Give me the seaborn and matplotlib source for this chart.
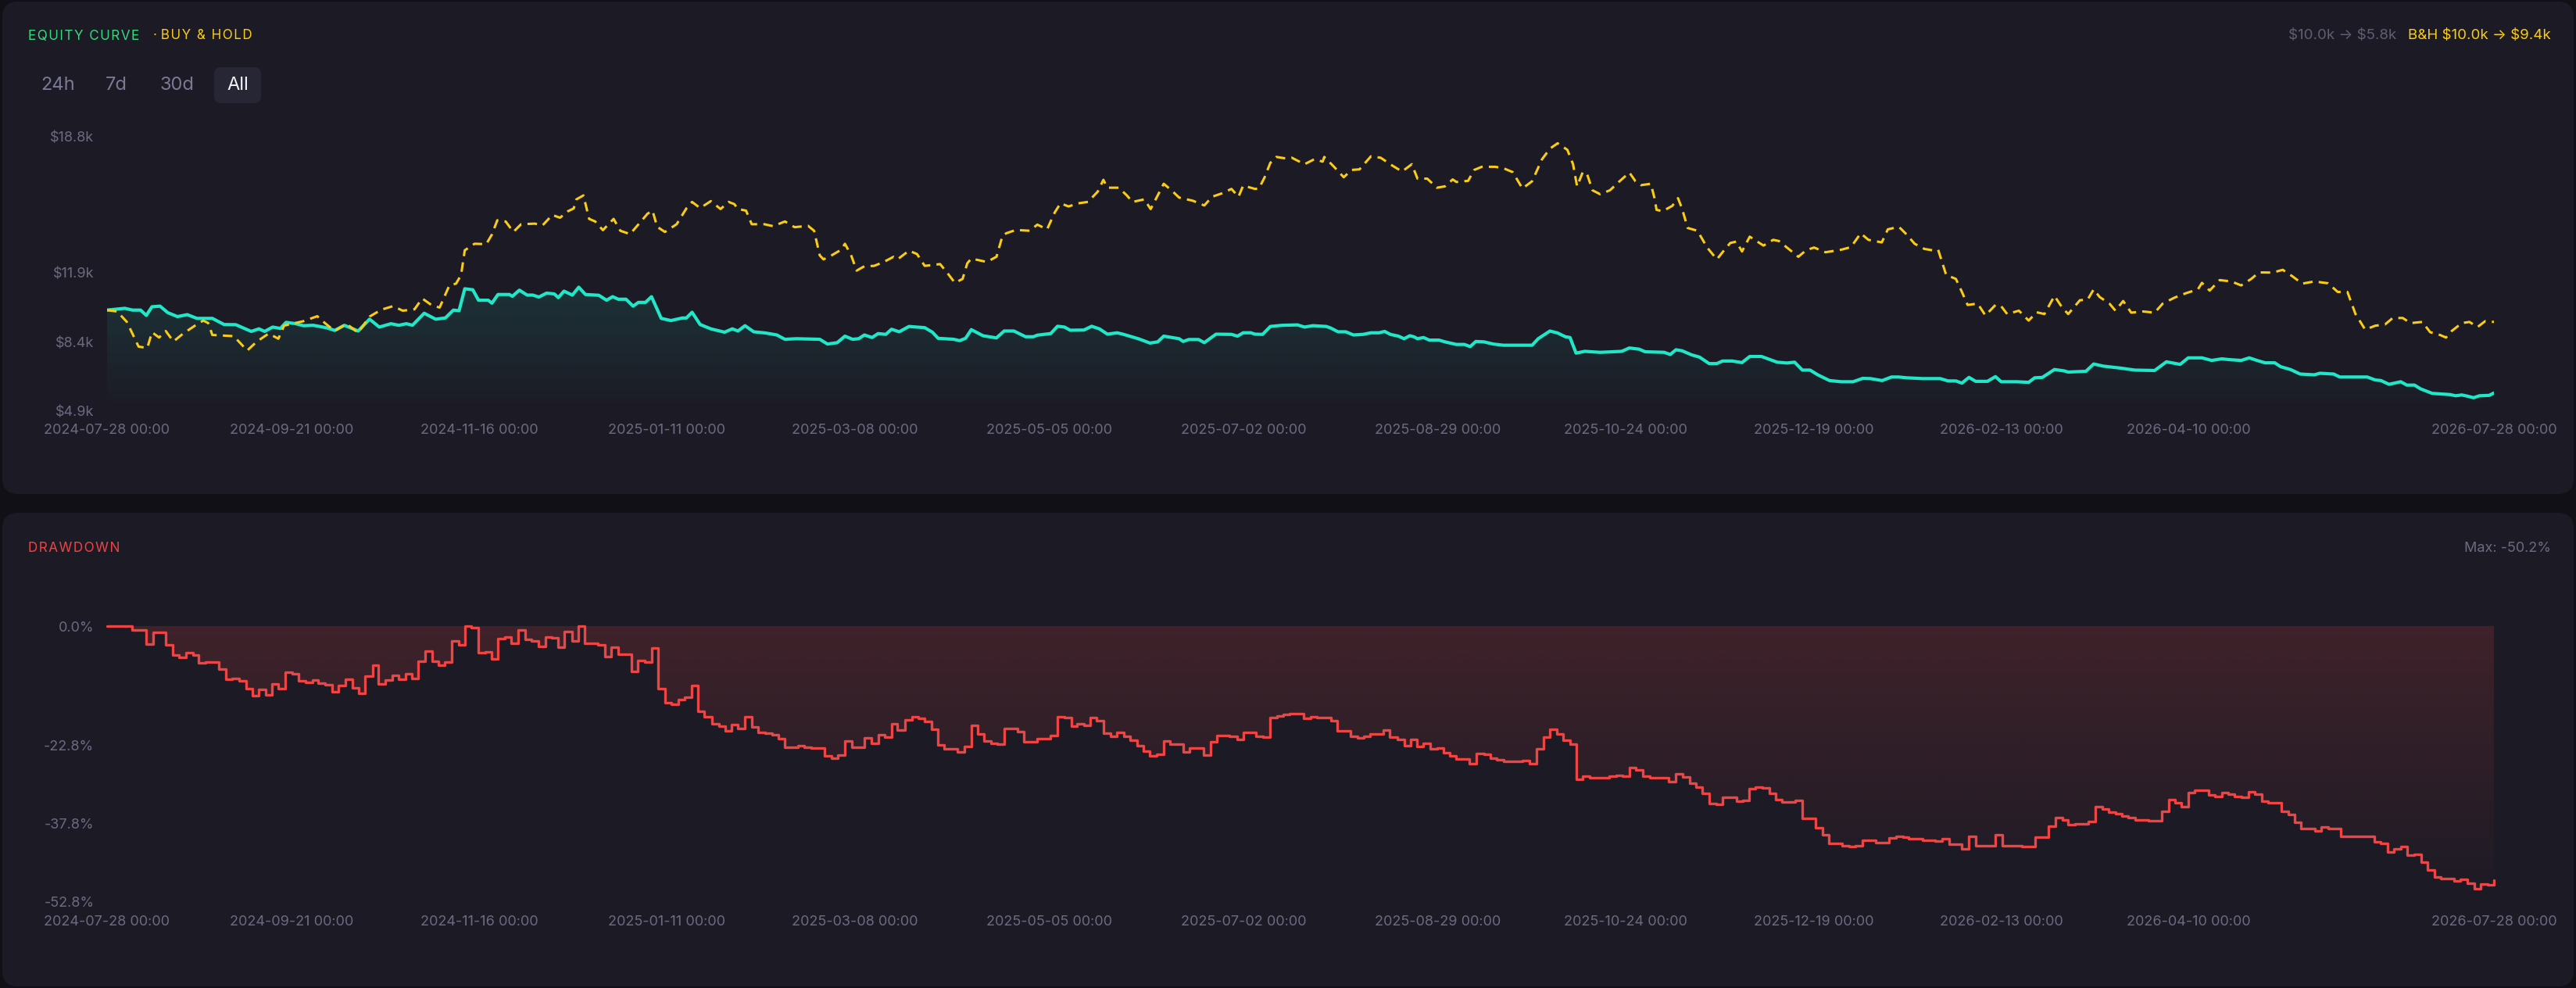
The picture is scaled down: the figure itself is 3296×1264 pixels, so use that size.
import numpy as np
import pandas as pd
import matplotlib
matplotlib.use("Agg")
import matplotlib.pyplot as plt
import matplotlib.dates as mdates
from matplotlib.colors import to_rgb
from matplotlib.patches import FancyBboxPatch
import seaborn as sns

sns.set_style("dark")
plt.rcParams["font.family"] = ["Inter", "DejaVu Sans"]
plt.rcParams["text.parse_math"] = False

start = pd.Timestamp("2024-07-28")

# (days since start, equity in $k)
equity = [
    (0, 10.00), (5.3, 10.09), (7.6, 10.00), (10.0, 10.00), (11.7, 9.73), (13.4, 10.17), (15.8, 10.20),
    (18.1, 9.87), (21.0, 9.67), (23.9, 9.77), (26.8, 9.58), (31.4, 9.58), (34.9, 9.27), (38.4, 9.26),
    (43.0, 8.92), (45.3, 9.05), (47.0, 8.92), (49.4, 9.14), (51.7, 9.07), (53.4, 9.38), (56.3, 9.31),
    (58.6, 9.21), (61.5, 9.23), (65.6, 9.10), (67.9, 8.97), (70.8, 9.23), (74.9, 8.94), (78.3, 9.54),
    (81.2, 9.14), (84.7, 9.31), (87.0, 9.23), (89.3, 9.31), (91.1, 9.23), (94.6, 9.84), (98.0, 9.54),
    (100.9, 9.60), (103.3, 10.00), (105.0, 9.97), (106.7, 11.08), (109.1, 11.03), (110.8, 10.50),
    (113.7, 10.50), (114.8, 10.35), (116.6, 10.79), (120.0, 10.79), (120.9, 10.70), (123.0, 11.01),
    (125.3, 10.76), (127.0, 10.76), (128.8, 10.66), (131.1, 10.86), (133.4, 10.82), (134.6, 10.63),
    (136.3, 10.96), (138.8, 10.76), (140.7, 11.16), (142.7, 10.79), (146.7, 10.75), (149.0, 10.50),
    (150.8, 10.68), (152.5, 10.55), (154.8, 10.55), (156.9, 10.20), (158.5, 10.39), (160.6, 10.39),
    (162.4, 10.68), (165.3, 9.58), (168.2, 9.47), (171.6, 9.60), (172.8, 9.60), (174.5, 9.89),
    (176.9, 9.27), (180.1, 9.05), (184.2, 8.88), (186.5, 9.05), (188.2, 8.94), (190.3, 9.21),
    (192.9, 8.90), (196.4, 8.84), (199.8, 8.74), (202.2, 8.52), (205.6, 8.55), (212.6, 8.52),
    (214.9, 8.28), (217.8, 8.35), (220.1, 8.68), (222.4, 8.52), (224.2, 8.55), (225.9, 8.74),
    (228.2, 8.61), (230.0, 8.81), (232.3, 8.77), (234.0, 9.03), (236.3, 8.90), (239.2, 9.17),
    (243.9, 9.11), (246.2, 8.88), (247.9, 8.57), (252.6, 8.52), (254.3, 8.45), (256.1, 8.57),
    (257.8, 9.01), (261.3, 8.70), (265.3, 8.59), (267.6, 8.94), (270.5, 8.94), (274.0, 8.65),
    (276.3, 8.65), (277.5, 8.73), (281.5, 8.81), (283.5, 9.18), (285.6, 9.14), (287.3, 8.98),
    (291.4, 8.99), (293.7, 9.18), (296.0, 9.05), (298.4, 8.78), (301.3, 8.85), (303.0, 8.78),
    (307.6, 8.55), (311.1, 8.33), (313.4, 8.39), (315.2, 8.68), (319.8, 8.55), (321.0, 8.41),
    (322.7, 8.51), (325.6, 8.51), (327.3, 8.35), (330.8, 8.78), (335.4, 8.77), (337.2, 8.68),
    (338.9, 8.85), (341.2, 8.85), (342.4, 8.78), (344.7, 8.77), (347.0, 9.17), (350.5, 9.23),
    (355.1, 9.25), (357.2, 9.14), (359.7, 9.21), (363.7, 9.17), (364.9, 9.10), (367.2, 8.90),
    (369.5, 8.90), (371.8, 8.74), (374.7, 8.77), (377.0, 8.85), (379.4, 8.85), (381.1, 8.92),
    (382.8, 8.77), (385.2, 8.68), (386.9, 8.55), (388.6, 8.70), (389.8, 8.65), (390.9, 8.55),
    (392.7, 8.61), (394.4, 8.48), (397.3, 8.48), (399.1, 8.39), (402.5, 8.26), (404.9, 8.26),
    (406.6, 8.15), (408.3, 8.41), (410.7, 8.39), (413.5, 8.28), (416.5, 8.22), (423.4, 8.22),
    (425.1, 8.22), (426.9, 8.55), (430.4, 8.94), (432.7, 8.84), (435.0, 8.65), (436.4, 8.61),
    (438.2, 7.82), (440.8, 7.91), (445.4, 7.86), (451.8, 7.91), (454.1, 8.08), (457.0, 8.02),
    (458.8, 7.89), (464.5, 7.86), (466.3, 7.75), (468.0, 7.99), (469.8, 7.94), (472.7, 7.73),
    (475.0, 7.62), (477.9, 7.29), (480.2, 7.29), (481.9, 7.42), (484.8, 7.42), (487.7, 7.34),
    (490.0, 7.65), (493.5, 7.65), (498.2, 7.36), (501.1, 7.32), (503.4, 7.36), (505.7, 6.96),
    (508.0, 6.96), (510.3, 6.72), (513.8, 6.43), (517.3, 6.37), (520.8, 6.37), (523.7, 6.54),
    (526.0, 6.53), (529.5, 6.43), (532.3, 6.61), (534.4, 6.61), (536.8, 6.57), (541.5, 6.53),
    (546.8, 6.53), (549.2, 6.41), (551.5, 6.41), (553.3, 6.30), (555.4, 6.59), (557.4, 6.39),
    (560.9, 6.39), (563.3, 6.63), (565.0, 6.37), (569.7, 6.37), (573.2, 6.34), (575.0, 6.57),
    (577.3, 6.59), (580.9, 6.99), (583.8, 6.92), (585.0, 6.86), (590.3, 6.90), (592.6, 7.27),
    (595.5, 7.16), (600.2, 7.07), (604.9, 6.96), (610.8, 6.94), (614.3, 7.38), (618.4, 7.25),
    (620.8, 7.58), (624.9, 7.58), (627.8, 7.45), (630.8, 7.53), (633.1, 7.49), (636.6, 7.45),
    (639.0, 7.58), (641.3, 7.45), (643.7, 7.33), (646.6, 7.33), (648.4, 7.13), (651.3, 6.99),
    (654.2, 6.76), (658.4, 6.72), (660.1, 6.80), (664.2, 6.76), (666.0, 6.61), (674.2, 6.61),
    (676.6, 6.46), (678.3, 6.43), (680.7, 6.24), (684.2, 6.37), (686.0, 6.20), (688.3, 6.20),
    (690.1, 6.01), (693.6, 5.78), (698.9, 5.72), (700.6, 5.66), (702.4, 5.70), (704.1, 5.64),
    (705.9, 5.56), (707.7, 5.66), (710.6, 5.68), (712.0, 5.80),
]

# (days since start, buy & hold in $k)
buy_hold = [
    (0, 10.00), (3.0, 9.93), (5.9, 9.40), (9.4, 8.15), (12.0, 8.08), (13.4, 8.88), (15.5, 8.61),
    (17.5, 8.94), (19.8, 8.41), (22.7, 8.81), (26.2, 9.21), (28.7, 9.47), (30.2, 9.34), (31.4, 8.74),
    (37.8, 8.68), (41.8, 7.95), (44.7, 8.41), (48.2, 8.81), (51.1, 8.55), (52.8, 9.21), (55.2, 9.31),
    (58.6, 9.44), (62.7, 9.69), (65.0, 9.34), (67.9, 8.94), (71.4, 9.31), (74.9, 8.85), (78.3, 9.67),
    (81.8, 10.02), (85.3, 10.20), (88.2, 9.97), (91.7, 10.04), (94.0, 10.59), (96.9, 10.24),
    (99.2, 10.13), (102.1, 11.25), (104.1, 11.34), (105.6, 11.78), (106.7, 13.03), (109.6, 13.36),
    (113.1, 13.34), (114.8, 13.83), (116.4, 14.55), (118.9, 14.49), (121.2, 13.96), (123.5, 14.35),
    (127.6, 14.38), (129.9, 14.29), (132.8, 14.82), (135.1, 14.68), (137.5, 15.01), (139.2, 15.15),
    (140.0, 15.61), (142.1, 15.81), (143.8, 14.62), (145.6, 14.49), (147.9, 14.05), (149.6, 14.35),
    (151.1, 14.62), (153.1, 14.02), (156.0, 13.85), (158.9, 14.42), (161.2, 14.88), (162.7, 15.04),
    (164.1, 14.22), (166.4, 13.96), (169.9, 14.35), (172.8, 15.15), (174.5, 15.48), (176.9, 15.17),
    (180.1, 15.52), (183.0, 15.12), (185.4, 15.48), (187.1, 15.37), (188.2, 15.12), (190.6, 15.04),
    (192.3, 14.35), (196.1, 14.35), (198.7, 14.25), (202.2, 14.49), (205.1, 14.20), (209.1, 14.27),
    (210.9, 14.02), (212.6, 12.77), (213.7, 12.57), (216.1, 12.77), (219.0, 13.06), (220.1, 13.36),
    (221.9, 12.80), (223.6, 12.00), (225.9, 12.22), (228.8, 12.24), (231.7, 12.44), (234.6, 12.70),
    (235.8, 12.57), (239.2, 13.01), (241.6, 12.84), (243.9, 12.24), (248.5, 12.33), (250.8, 11.85),
    (252.9, 11.38), (255.2, 11.58), (256.6, 12.37), (257.8, 12.61), (262.4, 12.44), (265.3, 12.70),
    (267.1, 13.76), (268.2, 13.89), (271.1, 14.06), (275.2, 14.02), (277.5, 14.33), (280.4, 14.09),
    (282.7, 14.95), (284.4, 15.41), (286.8, 15.25), (289.7, 15.41), (292.6, 15.48), (295.5, 16.00),
    (297.2, 16.60), (298.4, 16.20), (301.8, 16.20), (304.2, 15.81), (305.9, 15.48), (309.4, 15.61),
    (311.3, 15.12), (313.4, 15.81), (315.2, 16.40), (317.5, 16.07), (319.8, 15.70), (323.9, 15.54),
    (327.3, 15.30), (329.6, 15.74), (332.5, 15.91), (335.4, 16.14), (337.5, 15.74), (338.9, 16.31),
    (342.4, 16.14), (343.6, 16.16), (345.3, 16.73), (347.0, 17.46), (348.8, 17.76), (351.7, 17.68),
    (353.4, 17.72), (357.2, 17.39), (360.2, 17.65), (362.6, 17.52), (363.1, 17.76), (366.0, 17.26),
    (368.9, 16.73), (371.2, 17.10), (373.6, 17.13), (377.0, 17.79), (379.9, 17.72), (383.4, 17.32),
    (386.3, 17.02), (389.2, 17.39), (390.9, 16.66), (393.8, 16.66), (396.7, 16.20), (399.1, 16.27),
    (401.4, 16.62), (402.5, 16.49), (406.0, 16.55), (407.8, 17.10), (410.1, 17.26), (414.1, 17.26),
    (416.5, 17.19), (419.3, 16.99), (422.2, 16.16), (425.1, 16.53), (428.0, 17.63), (430.4, 18.18),
    (432.7, 18.45), (435.6, 18.12), (437.3, 17.39), (438.5, 16.27), (440.2, 16.99), (441.4, 16.93),
    (443.1, 16.07), (445.4, 15.87), (448.3, 16.07), (451.2, 16.53), (454.1, 16.97), (455.9, 16.53),
    (457.6, 16.33), (460.5, 16.40), (461.6, 15.67), (462.2, 15.08), (464.0, 15.01), (466.9, 15.28),
    (468.6, 15.67), (469.8, 15.15), (471.5, 14.16), (474.4, 14.02), (477.3, 13.17), (480.2, 12.57),
    (482.5, 13.06), (484.2, 13.40), (486.0, 13.47), (487.7, 12.97), (490.0, 13.72), (494.1, 13.27),
    (497.0, 13.56), (498.7, 13.50), (501.6, 13.10), (504.5, 12.70), (506.8, 13.03), (509.2, 13.17),
    (512.6, 12.93), (517.3, 13.06), (520.2, 13.19), (523.1, 13.89), (525.4, 13.56), (529.4, 13.43),
    (531.2, 14.09), (534.4, 14.22), (535.1, 14.12), (536.8, 13.83), (539.2, 13.36), (542.1, 13.10),
    (544.5, 13.03), (546.2, 13.06), (548.6, 11.78), (551.5, 11.58), (553.3, 10.92), (555.0, 10.26),
    (558.0, 10.33), (560.3, 9.73), (563.3, 10.26), (565.0, 10.20), (566.8, 9.80), (570.3, 9.97),
    (573.2, 9.47), (575.6, 9.89), (577.9, 9.80), (580.9, 10.72), (583.2, 10.13), (585.0, 9.80),
    (588.5, 10.50), (590.8, 10.53), (592.6, 11.05), (594.4, 10.66), (597.3, 10.33), (599.1, 9.97),
    (601.4, 10.46), (603.8, 9.87), (607.3, 9.93), (610.8, 9.87), (613.2, 10.33), (616.7, 10.63),
    (620.2, 10.86), (623.7, 11.05), (624.9, 11.38), (627.2, 10.99), (630.2, 11.52), (633.7, 11.45),
    (636.6, 11.25), (639.6, 11.58), (641.9, 11.91), (646.0, 11.90), (649.0, 12.04), (651.9, 11.71),
    (654.8, 11.34), (658.4, 11.45), (662.5, 11.36), (665.4, 10.92), (668.3, 10.92), (670.7, 9.80),
    (673.6, 9.01), (676.6, 9.21), (679.5, 9.27), (681.8, 9.60), (684.8, 9.60), (687.1, 9.34),
    (690.6, 9.40), (693.0, 8.88), (695.9, 8.74), (697.7, 8.61), (699.4, 8.94), (702.4, 9.34),
    (704.7, 9.40), (707.1, 9.14), (709.4, 9.44), (712.0, 9.40),
]

# (days since start, drawdown in %), drawn as steps
drawdown = [
    (0, 0.0), (7.4, -0.73), (11.7, -3.37), (13.7, -1.17), (17.5, -3.66), (19.6, -5.56), (21.5, -6.05),
    (23.5, -5.08), (25.6, -5.47), (27.3, -7.08), (29.4, -6.93), (33.4, -8.25), (35.5, -10.20),
    (37.4, -10.00), (39.5, -10.49), (41.5, -11.96), (43.3, -13.37), (45.3, -12.15), (47.3, -13.13),
    (49.1, -11.08), (51.1, -11.96), (53.1, -8.88), (55.2, -9.13), (57.1, -10.49), (59.2, -10.83),
    (61.2, -10.25), (63.0, -10.98), (65.0, -11.22), (67.1, -12.54), (69.1, -11.42), (71.0, -10.20),
    (73.1, -11.81), (75.1, -12.88), (77.0, -9.61), (79.2, -7.42), (81.0, -11.08), (83.0, -10.25),
    (85.1, -9.37), (87.0, -10.20), (89.0, -9.13), (90.9, -10.00), (92.8, -6.78), (94.8, -4.73),
    (96.9, -6.69), (98.9, -7.52), (100.7, -6.83), (102.7, -2.88), (104.8, -3.61), (106.7, 0.0),
    (108.7, -0.34), (110.8, -5.08), (112.8, -4.88), (114.6, -6.30), (116.6, -2.39), (118.6, -2.15),
    (120.6, -3.27), (122.6, -0.68), (124.7, -2.54), (126.7, -2.78), (128.8, -3.86), (130.7, -2.15),
    (132.6, -2.29), (134.6, -4.00), (136.5, -1.07), (138.6, -2.78), (140.6, 0.0), (142.4, -3.27),
    (146.5, -3.66), (148.5, -5.81), (150.4, -4.10), (152.5, -5.32), (156.4, -8.74), (158.3, -6.54),
    (160.4, -6.93), (162.4, -4.25), (164.3, -11.96), (166.4, -14.59), (168.4, -14.98), (170.4, -14.10),
    (172.2, -13.66), (174.3, -11.32), (176.3, -16.35), (178.2, -17.32), (180.4, -18.74), (182.5, -19.13),
    (184.4, -20.01), (186.3, -18.89), (188.2, -19.62), (190.3, -17.28), (192.3, -19.28), (194.3, -20.40),
    (196.4, -20.50), (198.3, -20.84), (200.2, -21.57), (202.2, -23.13), (206.0, -22.94), (208.0, -23.13),
    (210.0, -23.28), (214.0, -24.89), (216.1, -25.33), (218.0, -24.64), (220.1, -21.96), (222.1, -23.13),
    (225.9, -21.33), (227.9, -22.40), (230.0, -20.74), (231.9, -21.18), (234.0, -18.74), (235.8, -19.86),
    (238.1, -18.01), (240.1, -17.42), (241.9, -17.66), (243.9, -18.30), (245.9, -19.72), (247.9, -22.79),
    (249.7, -23.42), (253.7, -24.01), (255.7, -23.03), (257.8, -19.03), (259.8, -20.69), (261.6, -21.96),
    (263.6, -22.45), (265.6, -22.64), (267.6, -19.52), (271.5, -20.25), (273.4, -22.16), (277.5, -21.47),
    (281.5, -20.94), (283.5, -17.42), (285.6, -17.57), (287.6, -19.13), (289.4, -18.74), (291.4, -18.98),
    (293.4, -17.52), (295.2, -18.15), (297.2, -20.50), (299.3, -21.08), (301.3, -20.35), (303.2, -21.08),
    (305.1, -21.81), (307.3, -22.89), (309.1, -23.91), (311.1, -24.84), (313.1, -24.50), (315.2, -22.06),
    (317.1, -22.64), (319.0, -22.55), (321.0, -24.01), (322.9, -23.38), (327.0, -24.74), (329.1, -22.20),
    (331.0, -20.94), (334.9, -21.08), (337.0, -21.72), (338.9, -20.35), (342.7, -21.08), (344.9, -21.23),
    (347.0, -17.52), (349.0, -17.18), (350.9, -16.93), (352.8, -16.79), (357.0, -17.67), (359.1, -17.32),
    (361.0, -17.57), (365.1, -18.15), (366.9, -20.01), (371.0, -21.08), (373.0, -21.33), (375.0, -21.08),
    (376.8, -20.59), (380.7, -19.96), (382.6, -21.23), (384.8, -21.72), (386.9, -22.89), (388.9, -21.72),
    (390.7, -23.03), (392.7, -22.45), (394.8, -23.52), (396.7, -23.38), (398.7, -24.25), (400.6, -24.89),
    (402.5, -25.47), (406.4, -26.30), (408.4, -24.35), (410.7, -24.50), (412.6, -25.23), (414.5, -25.57),
    (416.5, -25.82), (422.2, -25.72), (424.3, -26.30), (426.4, -23.52), (428.4, -21.18), (430.4, -19.76),
    (432.4, -20.59), (434.4, -21.91), (436.4, -22.55), (438.2, -29.38), (440.2, -28.65), (442.3, -28.99),
    (448.1, -28.79), (450.1, -28.55), (452.0, -28.79), (454.1, -27.08), (456.1, -27.52), (458.2, -28.74),
    (460.1, -28.99), (465.9, -29.77), (467.8, -28.26), (470.0, -28.89), (472.1, -30.11), (473.9, -30.84),
    (475.9, -31.96), (477.9, -34.01), (480.0, -34.11), (481.9, -32.79), (486.0, -33.53), (488.0, -33.43),
    (489.8, -31.09), (491.8, -30.74), (493.8, -30.94), (495.8, -31.96), (497.8, -33.18), (499.7, -33.62),
    (503.6, -33.38), (505.7, -36.84), (509.7, -38.65), (511.7, -39.87), (513.6, -41.58), (517.5, -42.07),
    (519.6, -42.21), (521.6, -42.07), (523.7, -40.99), (527.7, -41.48), (531.5, -40.50), (533.6, -40.21),
    (535.7, -40.46), (537.4, -40.70), (541.5, -40.94), (545.4, -41.09), (547.4, -40.75), (549.4, -41.68),
    (553.3, -42.65), (555.3, -40.21), (557.4, -41.97), (563.3, -39.87), (565.3, -41.97), (571.1, -42.21),
    (575.2, -40.36), (579.1, -38.31), (581.1, -36.60), (583.2, -37.09), (585.0, -37.92), (587.0, -37.82),
    (591.1, -37.43), (593.0, -34.50), (595.2, -34.99), (597.1, -35.62), (599.1, -35.97), (601.1, -36.31),
    (603.0, -36.60), (604.9, -37.04), (609.0, -37.19), (612.9, -35.48), (614.9, -33.28), (616.9, -33.87),
    (618.8, -34.50), (620.8, -31.82), (622.8, -31.48), (626.9, -32.31), (628.8, -32.65), (630.8, -31.92),
    (632.8, -32.16), (634.6, -32.55), (636.6, -32.70), (638.7, -31.67), (640.7, -32.16), (642.7, -33.53),
    (644.6, -33.87), (648.6, -35.48), (650.7, -36.06), (652.5, -37.53), (654.5, -38.80), (658.6, -39.14),
    (660.5, -38.50), (662.5, -38.75), (666.3, -40.21), (668.3, -40.26), (676.3, -41.33), (678.3, -41.58),
    (680.3, -43.29), (682.2, -42.70), (684.2, -42.16), (686.2, -43.77), (688.3, -43.63), (690.3, -45.24),
    (692.2, -46.60), (694.2, -48.02), (696.2, -48.26), (700.0, -48.80), (702.0, -48.50), (704.1, -49.14),
    (706.1, -50.20), (708.0, -49.39), (710.2, -49.53), (712.0, -48.65),
]

eq_ticks = [4.9, 8.4, 11.9, 18.8]
dd_ticks = [-52.8, -37.8, -22.8, 0.0]
x_labels = ["2024-07-28 00:00", "2024-09-21 00:00", "2024-11-16 00:00", "2025-01-11 00:00",
            "2025-03-08 00:00", "2025-05-05 00:00", "2025-07-02 00:00", "2025-08-29 00:00",
            "2025-10-24 00:00", "2025-12-19 00:00", "2026-02-13 00:00", "2026-04-10 00:00",
            "2026-07-28 00:00"]
ranges = ["24h", "7d", "30d", "All"]
start_value, end_value, bh_end_value, max_dd = 10.0, 5.8, 9.4, -50.2

BG = "#111017"
CARD = "#1c1b25"
TEAL = "#22e6c8"
GOLD = "#facc15"
GREEN = "#38d97f"
RED = "#ef4444"
MUTED = "#6b6a80"


def to_frame(points):
    df = pd.DataFrame(points, columns=["day", "value"])
    df["date"] = start + pd.to_timedelta(df["day"], unit="D")
    return df


eq_df = to_frame(equity)
bh_df = to_frame(buy_hold)
dd_df = to_frame(drawdown)
x_end = eq_df["date"].iloc[-1]

W, H = 3296, 1264
fig = plt.figure(figsize=(W / 100, H / 100), dpi=100, facecolor=BG)

# background layer in pixel units: cards + header texts
bg = fig.add_axes([0, 0, 1, 1])
bg.set_xlim(0, W)
bg.set_ylim(H, 0)
bg.axis("off")
for y0, y1 in [(2, 632), (656, 1262)]:
    bg.add_patch(FancyBboxPatch((3, y0), W - 6, y1 - y0,
                                boxstyle="round,pad=0,rounding_size=20", fc=CARD, ec="none"))


def px_axes(left, top, right, bottom):
    return fig.add_axes([left / W, 1 - bottom / H, (right - left) / W, (bottom - top) / H])


ax1 = px_axes(137, 174.5, 3191, 525.5)
ax2 = px_axes(137, 801, 3191, 1154)


def gradient_fill(ax, df, base, top, bottom, color, alpha0, step=None):
    poly = ax.fill_between(df["date"], df["value"], base, step=step, color="none", lw=0)
    rgba = np.zeros((256, 1, 4))
    rgba[..., :3] = to_rgb(color)
    rgba[..., 3] = np.linspace(alpha0, 0, 256)[:, None]
    x0, x1 = mdates.date2num([df["date"].iloc[0], df["date"].iloc[-1]])
    im = ax.imshow(rgba, extent=[x0, x1, bottom, top], origin="upper",
                   aspect="auto", zorder=1, interpolation="bilinear")
    im.set_clip_path(poly.get_paths()[0], ax.transData)


def spaced(text, gap="\u200a"):
    # rough stand-in for css letter-spacing
    return gap.join(text)


# equity panel
gradient_fill(ax1, eq_df, eq_ticks[0], eq_ticks[-1], eq_ticks[0], TEAL, 0.26)
sns.lineplot(data=eq_df, x="date", y="value", ax=ax1, color=TEAL, lw=3.0,
             estimator=None, sort=False, zorder=3)
sns.lineplot(data=bh_df, x="date", y="value", ax=ax1, color=GOLD, lw=2.2,
             estimator=None, sort=False, zorder=4)
ax1.lines[-1].set_dashes((4, 2.6))
ax1.set_ylim(eq_ticks[0], eq_ticks[-1])
ax1.set_yticks(eq_ticks)
ax1.set_yticklabels([f"${v:.1f}k" for v in eq_ticks])

# drawdown panel
gradient_fill(ax2, dd_df, 0, 0, dd_ticks[0], RED, 0.17, step="post")
sns.lineplot(data=dd_df, x="date", y="value", ax=ax2, color=RED, lw=2.4,
             drawstyle="steps-post", estimator=None, sort=False, zorder=3)
ax2.lines[-1].set_clip_on(False)
ax2.set_ylim(dd_ticks[0], 0)
ax2.set_yticks(dd_ticks)
ax2.set_yticklabels([f"{v:.1f}%" for v in dd_ticks])

tick_dates = [pd.Timestamp(t) for t in x_labels[:-1]] + [x_end]
for ax in (ax1, ax2):
    ax.set_xlim(start, x_end)
    ax.set_xticks(tick_dates)
    ax.set_xticklabels(x_labels)
    ax.tick_params(length=0, pad=12, labelsize=13, labelcolor=MUTED)
    ax.set_facecolor("none")
    ax.grid(False)
    ax.set_xlabel("")
    ax.set_ylabel("")
    for s in ax.spines.values():
        s.set_visible(False)

# header texts
hdr = dict(fontsize=12.3, va="center", ha="left", family=["Inter", "DejaVu Sans"])
bg.text(36, 46, spaced("EQUITY CURVE"), color=GREEN, **hdr)
bg.text(196, 46, "· " + spaced("BUY & HOLD"), color=GOLD, **hdr)
bg.text(3264, 46, f"B&H ${start_value:.1f}k → ${bh_end_value:.1f}k", color=GOLD,
        fontsize=13.5, va="center", ha="right")
bg.text(3066, 46, f"${start_value:.1f}k → ${end_value:.1f}k", color="#5f5e72",
        fontsize=13.5, va="center", ha="right")

bg.add_patch(FancyBboxPatch((274, 86), 60, 46, boxstyle="round,pad=0,rounding_size=9",
                            fc="#272634", ec="none"))
for label, cx in zip(ranges, [74, 149, 226, 304]):
    bg.text(cx, 109, label, color="#f2f2f7" if label == "All" else "#7b7a95",
            fontsize=17, va="center", ha="center")

bg.text(36, 702, spaced("DRAWDOWN"), color=RED, **hdr)
bg.text(3264, 702, f"Max: {max_dd:.1f}%", color=MUTED, fontsize=13, va="center", ha="right")

fig.savefig("out.png", dpi=100, facecolor=BG)
